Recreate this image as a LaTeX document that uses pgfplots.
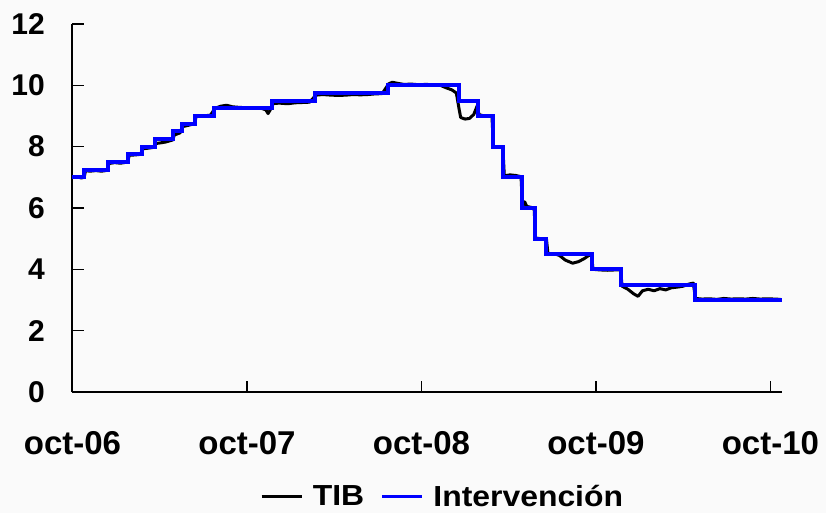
\documentclass[border=0pt]{standalone}
\usepackage{fontspec}
\setmainfont{Liberation Sans}
\newfontfamily\widefont{Liberation Sans}[FakeStretch=1.1]
\usepackage{pgfplots}
\pgfplotsset{compat=1.18}
\definecolor{intblue}{RGB}{0,0,255}
\definecolor{bgcol}{RGB}{250,250,250}
\begin{document}
\begin{tikzpicture}
% page background, fixes the picture size (axis sits at the origin)
\fill[bgcol] (-72.5pt,-121pt) rectangle (753.5pt,392pt);
\begin{axis}[scale only axis,width=709.5pt,height=368pt,
 xmin=0,xmax=48.8,ymin=0,ymax=12,
 axis x line=bottom,axis y line=left,
 axis line style={-,line width=2pt},
 tick align=inside,major tick length=11.5pt,
 major tick style={line width=1.6pt,black},
 xtick={0,12,24,36,48},
 xticklabels={oct-06,oct-07,oct-08,oct-09,oct-10},
 ytick={0,2,...,12},
 /pgf/number format/assume math mode=true,
 xticklabel style={font=\bfseries\fontsize{33}{33}\selectfont,anchor=north,inner sep=0pt,yshift=-39.7pt},
 yticklabel style={font=\bfseries\fontsize{30}{30}\selectfont,anchor=east,inner sep=0pt,xshift=-27.5pt},
 legend style={at={(0.522,-0.284)},anchor=center,draw=none,fill=none,
   font=\widefont\bfseries\fontsize{29}{29}\selectfont,legend columns=-1,
   /tikz/every odd column/.style={column sep=8pt},
   /tikz/every even column/.style={column sep=15pt}},
 legend image code/.code={\draw[#1,line width=2.2pt] (0pt,0pt) -- (40pt,0pt);},
 clip=false]
\addplot[black,line width=3pt,line join=round] coordinates {
 (0,7.00)(0.3,7.02)(0.6,6.98)(0.8,7.00)(0.9,7.22)(1.2,7.20)(1.6,7.22)(2.0,7.20)(2.4,7.23)
 (2.5,7.45)(2.9,7.48)(3.3,7.46)(3.8,7.50)(3.9,7.72)(4.3,7.73)(4.7,7.75)(4.8,7.93)(5.2,7.95)
 (5.6,7.98)(5.7,8.10)(6.0,8.12)(6.4,8.15)(6.9,8.22)(7.0,8.38)(7.4,8.45)(7.55,8.65)(8.0,8.70)
 (8.4,8.75)(8.5,8.98)(9.0,9.00)(9.5,9.03)(9.8,9.25)(10.2,9.32)(10.6,9.35)(11.0,9.30)(11.5,9.28)
 (12.0,9.27)(12.5,9.26)(13.0,9.25)(13.3,9.20)(13.45,9.08)(13.6,9.20)(13.75,9.40)(14.2,9.42)
 (14.8,9.40)(15.3,9.43)(15.8,9.44)(16.3,9.45)(16.75,9.68)(17.2,9.70)(17.8,9.68)(18.3,9.67)
 (18.8,9.68)(19.3,9.70)(19.8,9.69)(20.3,9.70)(20.8,9.72)(21.3,9.73)(21.75,10.05)(22.0,10.10)
 (22.3,10.07)(22.8,10.03)(23.3,10.04)(23.8,10.02)(24.3,10.03)(24.8,10.02)(25.3,10.00)
 (25.7,9.92)(26.1,9.85)(26.4,9.75)(26.6,9.20)(26.7,8.95)(27.0,8.90)(27.3,8.92)(27.6,9.05)
 (27.85,9.35)(27.95,9.05)(28.3,9.00)(28.85,9.00)(28.95,8.00)(29.3,8.00)(29.6,7.98)(29.7,7.05)
 (30.1,7.08)(30.5,7.06)(30.85,7.02)(30.95,6.05)(31.1,6.20)(31.25,6.05)(31.75,6.00)(31.85,5.02)
 (32.2,5.00)(32.6,4.98)(32.7,4.52)(33.2,4.50)(33.5,4.45)(33.9,4.30)(34.4,4.20)(34.8,4.25)
 (35.2,4.35)(35.5,4.45)(35.7,4.48)(35.8,4.00)(36.3,3.98)(36.8,3.97)(37.3,3.98)(37.7,3.98)
 (37.8,3.45)(38.2,3.35)(38.6,3.20)(38.9,3.12)(39.2,3.30)(39.6,3.35)(40.0,3.30)(40.4,3.37)
 (40.8,3.33)(41.2,3.40)(41.6,3.42)(42.0,3.45)(42.4,3.52)(42.7,3.55)(42.85,3.05)(43.3,3.03)
 (43.8,3.04)(44.3,3.02)(44.8,3.05)(45.3,3.03)(45.8,3.04)(46.3,3.03)(46.8,3.05)(47.3,3.03)
 (47.8,3.04)(48.3,3.03)(48.7,3.02)};
\addplot[intblue,line width=4pt,const plot] coordinates {
 (0,7.0)(0.8,7.25)(2.47,7.5)(3.84,7.75)(4.76,8.0)(5.68,8.25)(6.94,8.5)(7.5,8.75)(8.43,9.0)
 (9.74,9.25)(13.7,9.5)(16.7,9.75)(21.7,10.0)(26.55,9.5)(27.9,9.0)(28.9,8.0)(29.6,7.0)
 (30.9,6.0)(31.8,5.0)(32.6,4.5)(35.7,4.0)(37.7,3.5)(42.8,3.0)(48.8,3.0)};
\legend{TIB,Intervención}
\end{axis}
\end{tikzpicture}
\end{document}
